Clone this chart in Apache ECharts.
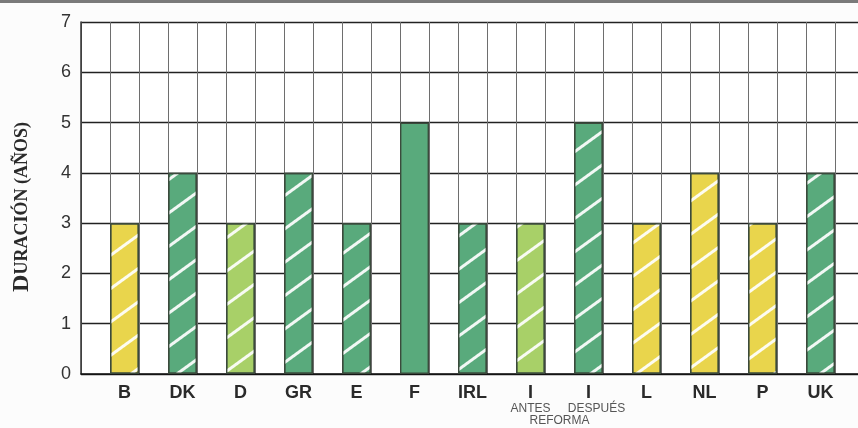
<!DOCTYPE html>
<html>
<head>
<meta charset="utf-8">
<script src="https://cdn.jsdelivr.net/npm/echarts@6/dist/echarts.min.js"></script>
<style>
html,body{margin:0;padding:0;background:#fcfcfc;overflow:hidden;width:858px;height:428px;}
#c{width:864px;height:428px;}
</style>
</head>
<body>
<div id="c"></div>
<script>
// ---- data ----
const countries = ['B','DK','D','GR','E','F','IRL','I','I','L','NL','P','UK'];
const subLabels = ['','','','','','','','ANTES','DESPUÉS','','','',''];
const noteLabel = 'REFORMA';
const durations = [3,4,3,4,3,5,3,3,5,3,4,3,4];
const groups = ['amarillo','verde','verdeClaro','verde','verde','verde','verde','verdeClaro','verde','amarillo','amarillo','amarillo','verde'];
const hatched = [true,true,true,true,true,false,true,true,true,true,true,true,true];
const yTicks = [0,1,2,3,4,5,6,7];

// ---- styles ----
const palette = {amarillo:'#e9d54c', verde:'#59aa7c', verdeClaro:'#a8d068'};

// Build half-cell category table: empty cell, bar cell, empty cell, ...
const cells = [];
const cellData = [];
const cellLabel = [];
cells.push('c0'); cellData.push(null); cellLabel.push('');
countries.forEach((c, i) => {
  cells.push('bar' + i);
  const item = {
    value: durations[i],
    itemStyle: {
      color: palette[groups[i]],
      borderColor: '#3b4a3c',
      borderWidth: 1.4
    }
  };
  if (hatched[i]) {
    item.itemStyle.decal = {
      symbol: 'rect',
      symbolSize: 1,
      dashArrayX: [1, 0],
      dashArrayY: [2.5, 24],
      rotation: -Math.PI / 5,
      color: 'rgba(255,255,255,0.92)'
    };
  }
  cellData.push(item);
  let lab = '{m|' + c + '}';
  if (subLabels[i]) lab += '\n{' + (i === 8 ? 'd' : 's') + '|' + subLabels[i] + '}';
  cellLabel.push(lab);
  cells.push('gap' + i); cellData.push(null);
  cellLabel.push(i === 7 ? '{m| }\n{s| }\n{s|' + noteLabel + '}' : '');
});

const chart = echarts.init(document.getElementById('c'));
chart.setOption({
  backgroundColor: '#fcfcfc',
  animation: false,
  graphic: [{type:'rect', shape:{x:0,y:0,width:864,height:3}, style:{fill:'#7a7a7a'}}],
  grid: {left: 81, right: 0, top: 22, bottom: 54, show: true, backgroundColor: '#ffffff', borderWidth: 0},
  xAxis: {
    type: 'category',
    data: cells,
    boundaryGap: true,
    axisLine: {lineStyle: {color: '#111', width: 1.5}},
    axisTick: {show: false},
    splitLine: {show: true, interval: 0, lineStyle: {color: '#6e6e6e', width: 1}},
    axisLabel: {
      interval: 0,
      margin: 9,
      formatter: (v, idx) => cellLabel[idx],
      rich: {
        m: {fontSize: 18, fontWeight: 'bold', color: '#2a2a2a', fontFamily: 'Liberation Sans', lineHeight: 20},
        s: {fontSize: 12, color: '#555', fontFamily: 'Liberation Sans', lineHeight: 12},
        d: {fontSize: 12, color: '#555', fontFamily: 'Liberation Sans', lineHeight: 12, padding: [0,0,0,16]}
      }
    }
  },
  yAxis: {
    type: 'value',
    min: yTicks[0],
    max: yTicks[yTicks.length - 1],
    interval: 1,
    axisLine: {show: true, lineStyle: {color: '#333', width: 1.5}},
    axisTick: {show: false},
    splitLine: {lineStyle: {color: '#222', width: 1.3}},
    axisLabel: {fontSize: 18, color: '#333', fontFamily: 'Liberation Sans', margin: 10},
    name: '{b|D}{a|URACIÓN (AÑOS)}',
    nameLocation: 'middle',
    nameRotate: 90,
    nameGap: 47,
    nameTextStyle: {
      padding: [0, 18, 0, 0],
      rich: {
        b: {fontSize: 24, fontWeight: 'bold', fontFamily: 'Liberation Serif', color: '#2a2a2a'},
        a: {fontSize: 18, fontWeight: 'bold', fontFamily: 'Liberation Serif', color: '#2a2a2a'}
      }
    }
  },
  series: [{
    type: 'bar',
    data: cellData,
    barCategoryGap: '0%',
    barWidth: '100%',
    z: 3
  }]
});
</script>
</body>
</html>
